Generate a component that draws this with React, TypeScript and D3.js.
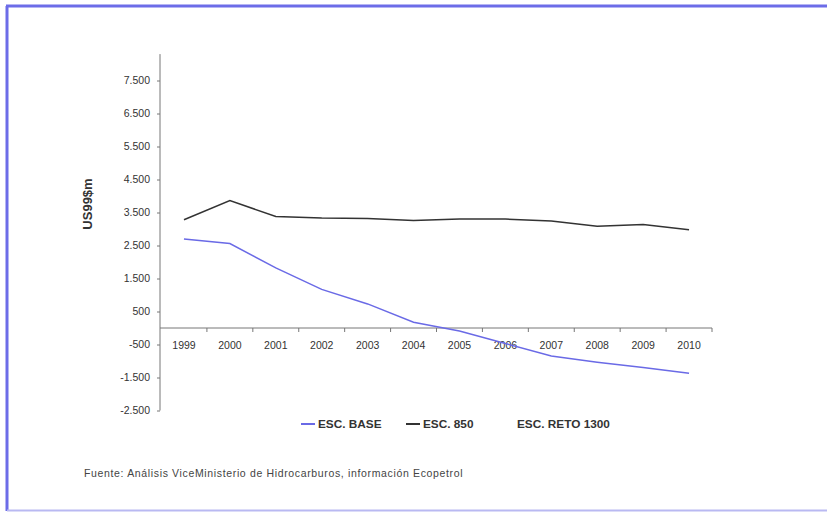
import React, { useEffect, useRef } from "react";
import * as d3 from "d3";

const years = ["1999","2000","2001","2002","2003","2004","2005","2006","2007","2008","2009","2010"];
const escBase = [2700, 2560, 1820, 1170, 730, 175, -90, -470, -850, -1040, -1200, -1370];
const esc850 = [3280, 3860, 3380, 3330, 3320, 3260, 3300, 3300, 3240, 3080, 3140, 2980];
const yTicks = [7500, 6500, 5500, 4500, 3500, 2500, 1500, 500, -500, -1500, -2500];
const legendItems = [
  { label: "ESC. BASE", color: "#6a6ae6", line: true },
  { label: "ESC. 850", color: "#333333", line: true },
  { label: "ESC. RETO 1300", color: "#333333", line: false },
];

const W = 827, H = 513;
const fmt = (v: number) => {
  const s = Math.abs(v).toString().replace(/\B(?=(\d{3})+(?!\d))/g, ".");
  return (v < 0 ? "-" : "") + s;
};

export default function App() {
  const ref = useRef<SVGSVGElement>(null);
  useEffect(() => {
    const svg = d3.select(ref.current!);
    svg.selectAll("*").remove();
    const font = "'Liberation Sans', Arial, sans-serif";
    svg.append("rect").attr("width", W).attr("height", H).attr("fill", "#fff");
    // frame
    svg.append("line").attr("x1", 6).attr("x2", W).attr("y1", 6).attr("y2", 6).attr("stroke", "#6c6ce8").attr("stroke-width", 3);
    svg.append("line").attr("x1", 7).attr("x2", 7).attr("y1", 6).attr("y2", 511).attr("stroke", "#6c6ce8").attr("stroke-width", 3);
    svg.append("line").attr("x1", 7).attr("x2", 827).attr("y1", 510.5).attr("y2", 510.5).attr("stroke", "#b9b9f2").attr("stroke-width", 2);

    const x = d3.scaleBand().domain(years).range([161, 712]);
    const y = d3.scaleLinear().domain([-2500, 8500]).range([410.5, 47.5]);

    // y axis
    const ya = svg.append("g").attr("transform", "translate(160,0)")
      .call(d3.axisLeft(y).tickValues(yTicks).tickSize(3).tickPadding(7).tickFormat((d: any) => fmt(d)));
    ya.select(".domain").attr("stroke", "#777").attr("d", `M0,${y(8300)}V${y(-2500)}`);
    ya.selectAll(".tick line").attr("stroke", "#777");
    ya.selectAll("text").attr("font-family", font).attr("font-size", 10.5).attr("fill", "#333");

    // x axis at zero
    const xa = svg.append("g").attr("transform", `translate(0,${y(0)})`)
      .call(d3.axisBottom(x).tickSize(0).tickPadding(14));
    xa.select(".domain").attr("stroke", "#777").attr("d", `M160,0H712`);
    xa.selectAll("text").attr("font-family", font).attr("font-size", 10.5).attr("fill", "#333");
    const bounds = years.map((yr) => x(yr)! + x.bandwidth());
    xa.selectAll(".sep").data(bounds).enter().append("line")
      .attr("x1", (d) => d).attr("x2", (d) => d).attr("y1", 0).attr("y2", 4).attr("stroke", "#777");

    const line = d3.line<number>().x((_, i) => x(years[i])! + x.bandwidth() / 2).y((d) => y(d));
    svg.append("path").datum(escBase).attr("d", line).attr("fill", "none").attr("stroke", "#6a6ae6").attr("stroke-width", 1.5);
    svg.append("path").datum(esc850).attr("d", line).attr("fill", "none").attr("stroke", "#333").attr("stroke-width", 1.5);

    // y title
    svg.append("text").attr("transform", "translate(92,204) rotate(-90)").attr("text-anchor", "middle")
      .attr("font-family", font).attr("font-weight", "bold").attr("font-size", 13).attr("fill", "#333").text("US99$m");

    // legend
    const lx = [301, 406, 517];
    legendItems.forEach((it, i) => {
      const g = svg.append("g").attr("transform", `translate(${lx[i]},424)`);
      if (it.line) {
        g.append("line").attr("x1", 0).attr("x2", 14).attr("y1", 0).attr("y2", 0).attr("stroke", it.color).attr("stroke-width", 2);
      }
      g.append("text").attr("x", it.line ? 17 : 0).attr("y", 4).attr("font-family", font).attr("font-weight", "bold")
        .attr("font-size", 11.8).attr("fill", "#333").text(it.label);
    });

    svg.append("text").attr("x", 84).attr("y", 477).attr("font-family", font).attr("font-size", 10.5)
      .attr("letter-spacing", 0.65).attr("fill", "#444")
      .text("Fuente:  Análisis ViceMinisterio de Hidrocarburos, información Ecopetrol");
  }, []);
  return <svg ref={ref} width={W} height={H} style={{ position: "absolute", left: 0, top: 0 }} />;
}
